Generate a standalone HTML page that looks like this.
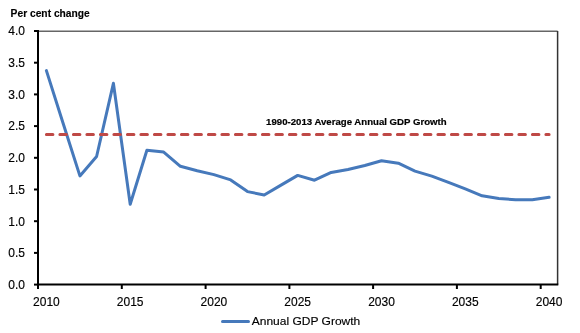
<!DOCTYPE html>
<html><head><meta charset="utf-8"><style>
html,body{margin:0;padding:0;background:#fff;}
svg{display:block;will-change:transform;}
text{font-family:"Liberation Sans", sans-serif;}
</style></head><body>
<svg width="580" height="333" viewBox="0 0 580 333">
<rect width="580" height="333" fill="#fff"/>
<text x="10.6" y="17.3" font-size="11.6" font-weight="bold" fill="#000" stroke="#000" stroke-width="0.15" textLength="79.2" lengthAdjust="spacingAndGlyphs">Per cent change</text>
<line x1="38" y1="31.2" x2="557.6" y2="31.2" stroke="#666666" stroke-width="1.6"/>
<line x1="557.6" y1="31" x2="557.6" y2="284.6" stroke="#333" stroke-width="1.5"/>
<g stroke="#000" stroke-width="2"><line x1="34" y1="284.6" x2="38" y2="284.6"/><line x1="34" y1="252.9" x2="38" y2="252.9"/><line x1="34" y1="221.2" x2="38" y2="221.2"/><line x1="34" y1="189.5" x2="38" y2="189.5"/><line x1="34" y1="157.8" x2="38" y2="157.8"/><line x1="34" y1="126.1" x2="38" y2="126.1"/><line x1="34" y1="94.4" x2="38" y2="94.4"/><line x1="34" y1="62.7" x2="38" y2="62.7"/><line x1="34" y1="31.0" x2="38" y2="31.0"/><line x1="38.0" y1="284.6" x2="38.0" y2="289"/><line x1="121.8" y1="284.6" x2="121.8" y2="289"/><line x1="205.6" y1="284.6" x2="205.6" y2="289"/><line x1="289.4" y1="284.6" x2="289.4" y2="289"/><line x1="373.1" y1="284.6" x2="373.1" y2="289"/><line x1="456.9" y1="284.6" x2="456.9" y2="289"/><line x1="540.7" y1="284.6" x2="540.7" y2="289"/>
<line x1="38" y1="30" x2="38" y2="285.6"/>
<line x1="37" y1="284.6" x2="558.3" y2="284.6"/>
</g>
<g font-size="12" fill="#000" stroke="#000" stroke-width="0.15"><text x="25" y="288.9" text-anchor="end">0.0</text><text x="25" y="257.2" text-anchor="end">0.5</text><text x="25" y="225.5" text-anchor="end">1.0</text><text x="25" y="193.8" text-anchor="end">1.5</text><text x="25" y="162.1" text-anchor="end">2.0</text><text x="25" y="130.4" text-anchor="end">2.5</text><text x="25" y="98.7" text-anchor="end">3.0</text><text x="25" y="67.0" text-anchor="end">3.5</text><text x="25" y="35.3" text-anchor="end">4.0</text><text x="46.4" y="306.3" text-anchor="middle">2010</text><text x="130.2" y="306.3" text-anchor="middle">2015</text><text x="213.9" y="306.3" text-anchor="middle">2020</text><text x="297.7" y="306.3" text-anchor="middle">2025</text><text x="381.5" y="306.3" text-anchor="middle">2030</text><text x="465.3" y="306.3" text-anchor="middle">2035</text><text x="549.1" y="306.3" text-anchor="middle">2040</text></g>
<polyline points="46.4,70.6 63.1,123.2 79.9,175.9 96.6,156.5 113.4,83.3 130.2,204.3 146.9,150.3 163.7,152.1 180.4,166.3 197.2,170.8 213.9,174.6 230.7,179.9 247.5,191.6 264.2,195.0 281.0,185.1 297.7,175.4 314.5,180.2 331.2,172.4 348.0,169.5 364.8,165.5 381.5,160.8 398.3,163.2 415.0,171.1 431.8,176.1 448.5,182.3 465.3,188.9 482.1,195.8 498.8,198.4 515.6,199.8 532.3,199.8 549.1,197.3" fill="none" stroke="#4679bb" stroke-width="3" stroke-linejoin="round" stroke-linecap="round"/>
<line x1="46.4" y1="134.5" x2="549.1" y2="134.5" stroke="#bf4946" stroke-width="3" stroke-linecap="round" stroke-dasharray="6.5 7"/>
<text x="266.1" y="124.7" font-size="9.9" font-weight="bold" fill="#000" stroke="#000" stroke-width="0.2" textLength="180.5" lengthAdjust="spacingAndGlyphs">1990-2013 Average Annual GDP Growth</text>
<line x1="222.5" y1="321.4" x2="248.5" y2="321.4" stroke="#4679bb" stroke-width="3" stroke-linecap="round"/>
<text x="251.7" y="325" font-size="11.6" fill="#000" stroke="#000" stroke-width="0.15" textLength="108.6" lengthAdjust="spacingAndGlyphs">Annual GDP Growth</text>
</svg>
</body></html>
